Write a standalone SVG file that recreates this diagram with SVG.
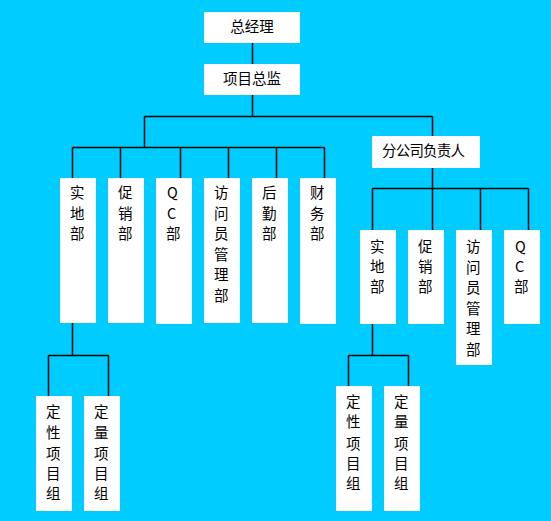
<svg xmlns="http://www.w3.org/2000/svg" width="551" height="521" viewBox="0 0 551 521">
<style>
.bx{fill:#fff}
.ln{stroke:#000;stroke-width:1.5;fill:none}
text{font-family:"Noto Sans CJK SC","Noto Sans",sans-serif;font-size:14.5px;fill:#000}
.c{text-anchor:middle}
</style>
<rect width="551" height="521" fill="#00CCFF"/>
<g id="connectors" class="ln">
<path d="M252.5 43V64M252.5 95V116.5M144.5 116.5H432.5M144.5 116.5V147.5M72.5 147.5H324.5M72.5 147.5V178M120.5 147.5V178M180.5 147.5V178M228.5 147.5V178M276.5 147.5V178M324.5 147.5V178"/>
<path d="M432.5 116.5V136M432.5 168V188.5M372.5 188.5H528.5M372.5 188.5V230M432.5 188.5V230M480.5 188.5V230M528.5 188.5V230"/>
<path d="M72.5 323V355.5M48.5 355.5H108.5M48.5 355.5V396M108.5 355.5V396"/>
<path d="M372.5 324V355.5M348.5 355.5H408.5M348.5 355.5V386M408.5 355.5V386"/>
</g>
<g id="gm"><rect class="bx" x="204" y="12" width="96" height="31"/><text class="c" x="252" y="32">总经理</text></g>
<g id="pd"><rect class="bx" x="204" y="64" width="96" height="31"/><text class="c" x="252" y="84">项目总监</text></g>
<g id="branch"><rect class="bx" x="372" y="136" width="108" height="32"/><text x="382" y="156" textLength="83">分公司负责人</text></g>
<g id="l1"><rect class="bx" x="60" y="178" width="36" height="145"/><text x="70" y="198">实</text><text x="70" y="218.5">地</text><text x="70" y="239">部</text></g>
<g id="l2"><rect class="bx" x="108" y="178" width="36" height="145"/><text x="118" y="198">促</text><text x="118" y="218.5">销</text><text x="118" y="239">部</text></g>
<g id="l3"><rect class="bx" x="156" y="178" width="36" height="146"/><text x="167" y="198">Q</text><text x="167" y="218.5">C</text><text x="166" y="239">部</text></g>
<g id="l4"><rect class="bx" x="204" y="178" width="36" height="145"/><text x="214" y="198">访</text><text x="214" y="218.5">问</text><text x="214" y="239">员</text><text x="214" y="259.5">管</text><text x="214" y="280">理</text><text x="214" y="300.5">部</text></g>
<g id="l5"><rect class="bx" x="252" y="178" width="36" height="145"/><text x="262" y="198">后</text><text x="262" y="218.5">勤</text><text x="262" y="239">部</text></g>
<g id="l6"><rect class="bx" x="300" y="178" width="36" height="146"/><text x="310" y="198">财</text><text x="310" y="218.5">务</text><text x="310" y="239">部</text></g>
<g id="r1"><rect class="bx" x="360" y="230" width="36" height="94"/><text x="370" y="252">实</text><text x="370" y="272">地</text><text x="370" y="292">部</text></g>
<g id="r2"><rect class="bx" x="408" y="230" width="36" height="94"/><text x="418" y="252">促</text><text x="418" y="272">销</text><text x="418" y="292">部</text></g>
<g id="r3"><rect class="bx" x="456" y="230" width="36" height="135"/><text x="466" y="252">访</text><text x="466" y="272.5">问</text><text x="466" y="293">员</text><text x="466" y="313.5">管</text><text x="466" y="334">理</text><text x="466" y="354.5">部</text></g>
<g id="r4"><rect class="bx" x="504" y="230" width="36" height="94"/><text x="515" y="252">Q</text><text x="515" y="272">C</text><text x="514" y="292">部</text></g>
<g id="ll1"><rect class="bx" x="36" y="396" width="36" height="115"/><text x="46" y="417">定</text><text x="46" y="438">性</text><text x="46" y="459">项</text><text x="46" y="479">目</text><text x="46" y="499">组</text></g>
<g id="ll2"><rect class="bx" x="84" y="396" width="36" height="115"/><text x="94" y="417">定</text><text x="94" y="438">量</text><text x="94" y="459">项</text><text x="94" y="479">目</text><text x="94" y="499">组</text></g>
<g id="rr1"><rect class="bx" x="336" y="386" width="36" height="125"/><text x="346" y="407">定</text><text x="346" y="427">性</text><text x="346" y="449">项</text><text x="346" y="469">目</text><text x="346" y="489">组</text></g>
<g id="rr2"><rect class="bx" x="384" y="386" width="36" height="125"/><text x="394" y="407">定</text><text x="394" y="427">量</text><text x="394" y="449">项</text><text x="394" y="469">目</text><text x="394" y="489">组</text></g>
</svg>
